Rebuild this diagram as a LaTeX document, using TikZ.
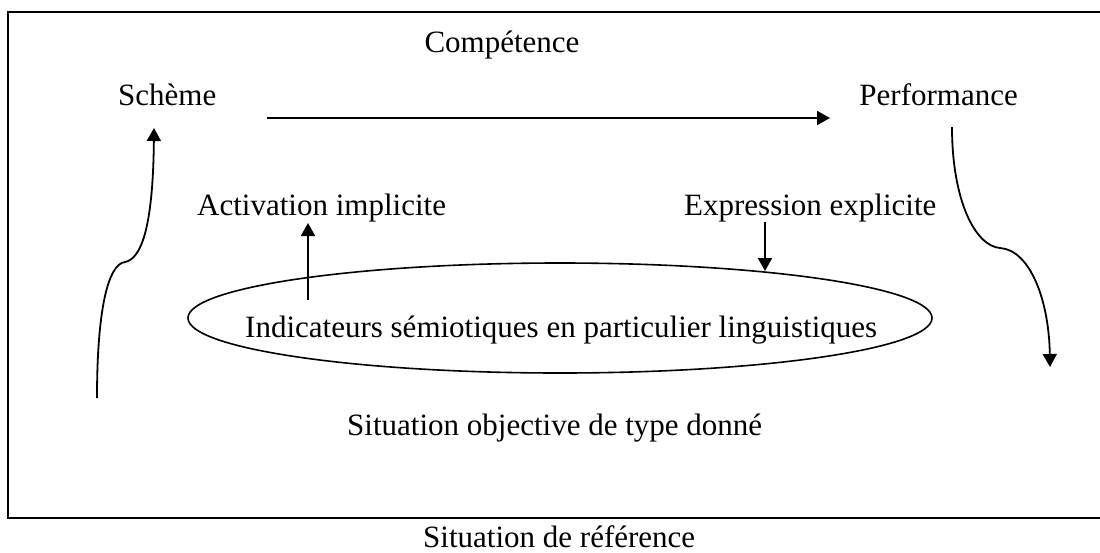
\documentclass[tikz,border=0pt]{standalone}
\usepackage{fontspec}
\setmainfont{Liberation Serif}
\usetikzlibrary{arrows.meta,shapes.geometric}
\begin{document}
\begin{tikzpicture}[x=1pt,y=-1pt,
  lbl/.style={font=\fontsize{31}{37}\selectfont, inner sep=0pt},
  arr/.style={line width=1.8pt, -{Triangle[length=13pt,width=14pt]}},
  oval/.style={draw, line width=1.6pt, ellipse, inner sep=0pt, minimum width=744pt, minimum height=110pt}
]
\useasboundingbox (0,0) rectangle (1100,552);
\draw[line width=2pt] (8,12) rectangle (1101,518);
\node[lbl, anchor=base] (comp) at (502,52) {Compétence};
\node[lbl, anchor=base west] (scheme) at (118,105) {Schème};
\node[lbl, anchor=base east] (perf) at (1018,105) {Performance};
\node[lbl, anchor=base west] (act) at (197,215) {Activation implicite};
\node[lbl, anchor=base west] (expr) at (684,215) {Expression explicite};
\node[oval] (ell) at (560,318) {};
\node[lbl, anchor=base west] (ind) at (245,337) {Indicateurs sémiotiques en particulier linguistiques};
\node[lbl, anchor=base west] (sit) at (347,435) {Situation objective de type donné};
\node[lbl, anchor=base west] (ref) at (423,547) {Situation de référence};
% main arrow
\coordinate (ms) at (267,118);
\coordinate (me) at (830,118);
\draw[arr] (ms) -- (me);
% up arrow
\coordinate (ub) at (308,300);
\coordinate (ut) at (308,223);
\draw[arr] (ub) -- (ut);
% down arrow
\coordinate (dt) at (765,222);
\coordinate (db) at (765,271);
\draw[arr] (dt) -- (db);
% left curved arrow
\coordinate (ls) at (97,398);
\coordinate (lk) at (125,262);
\coordinate (le) at (154,128);
\draw[arr] (ls) .. controls (97,310) and (108,264) .. (lk) .. controls (140,259) and (153,232) .. (le);
% right curved arrow
\coordinate (rs) at (952,127);
\coordinate (rk) at (1000,248);
\coordinate (re) at (1050,367);
\draw[arr] (rs) .. controls (952,200) and (975,246) .. (rk) .. controls (1030,250) and (1049,300) .. (re);
\end{tikzpicture}
\end{document}
